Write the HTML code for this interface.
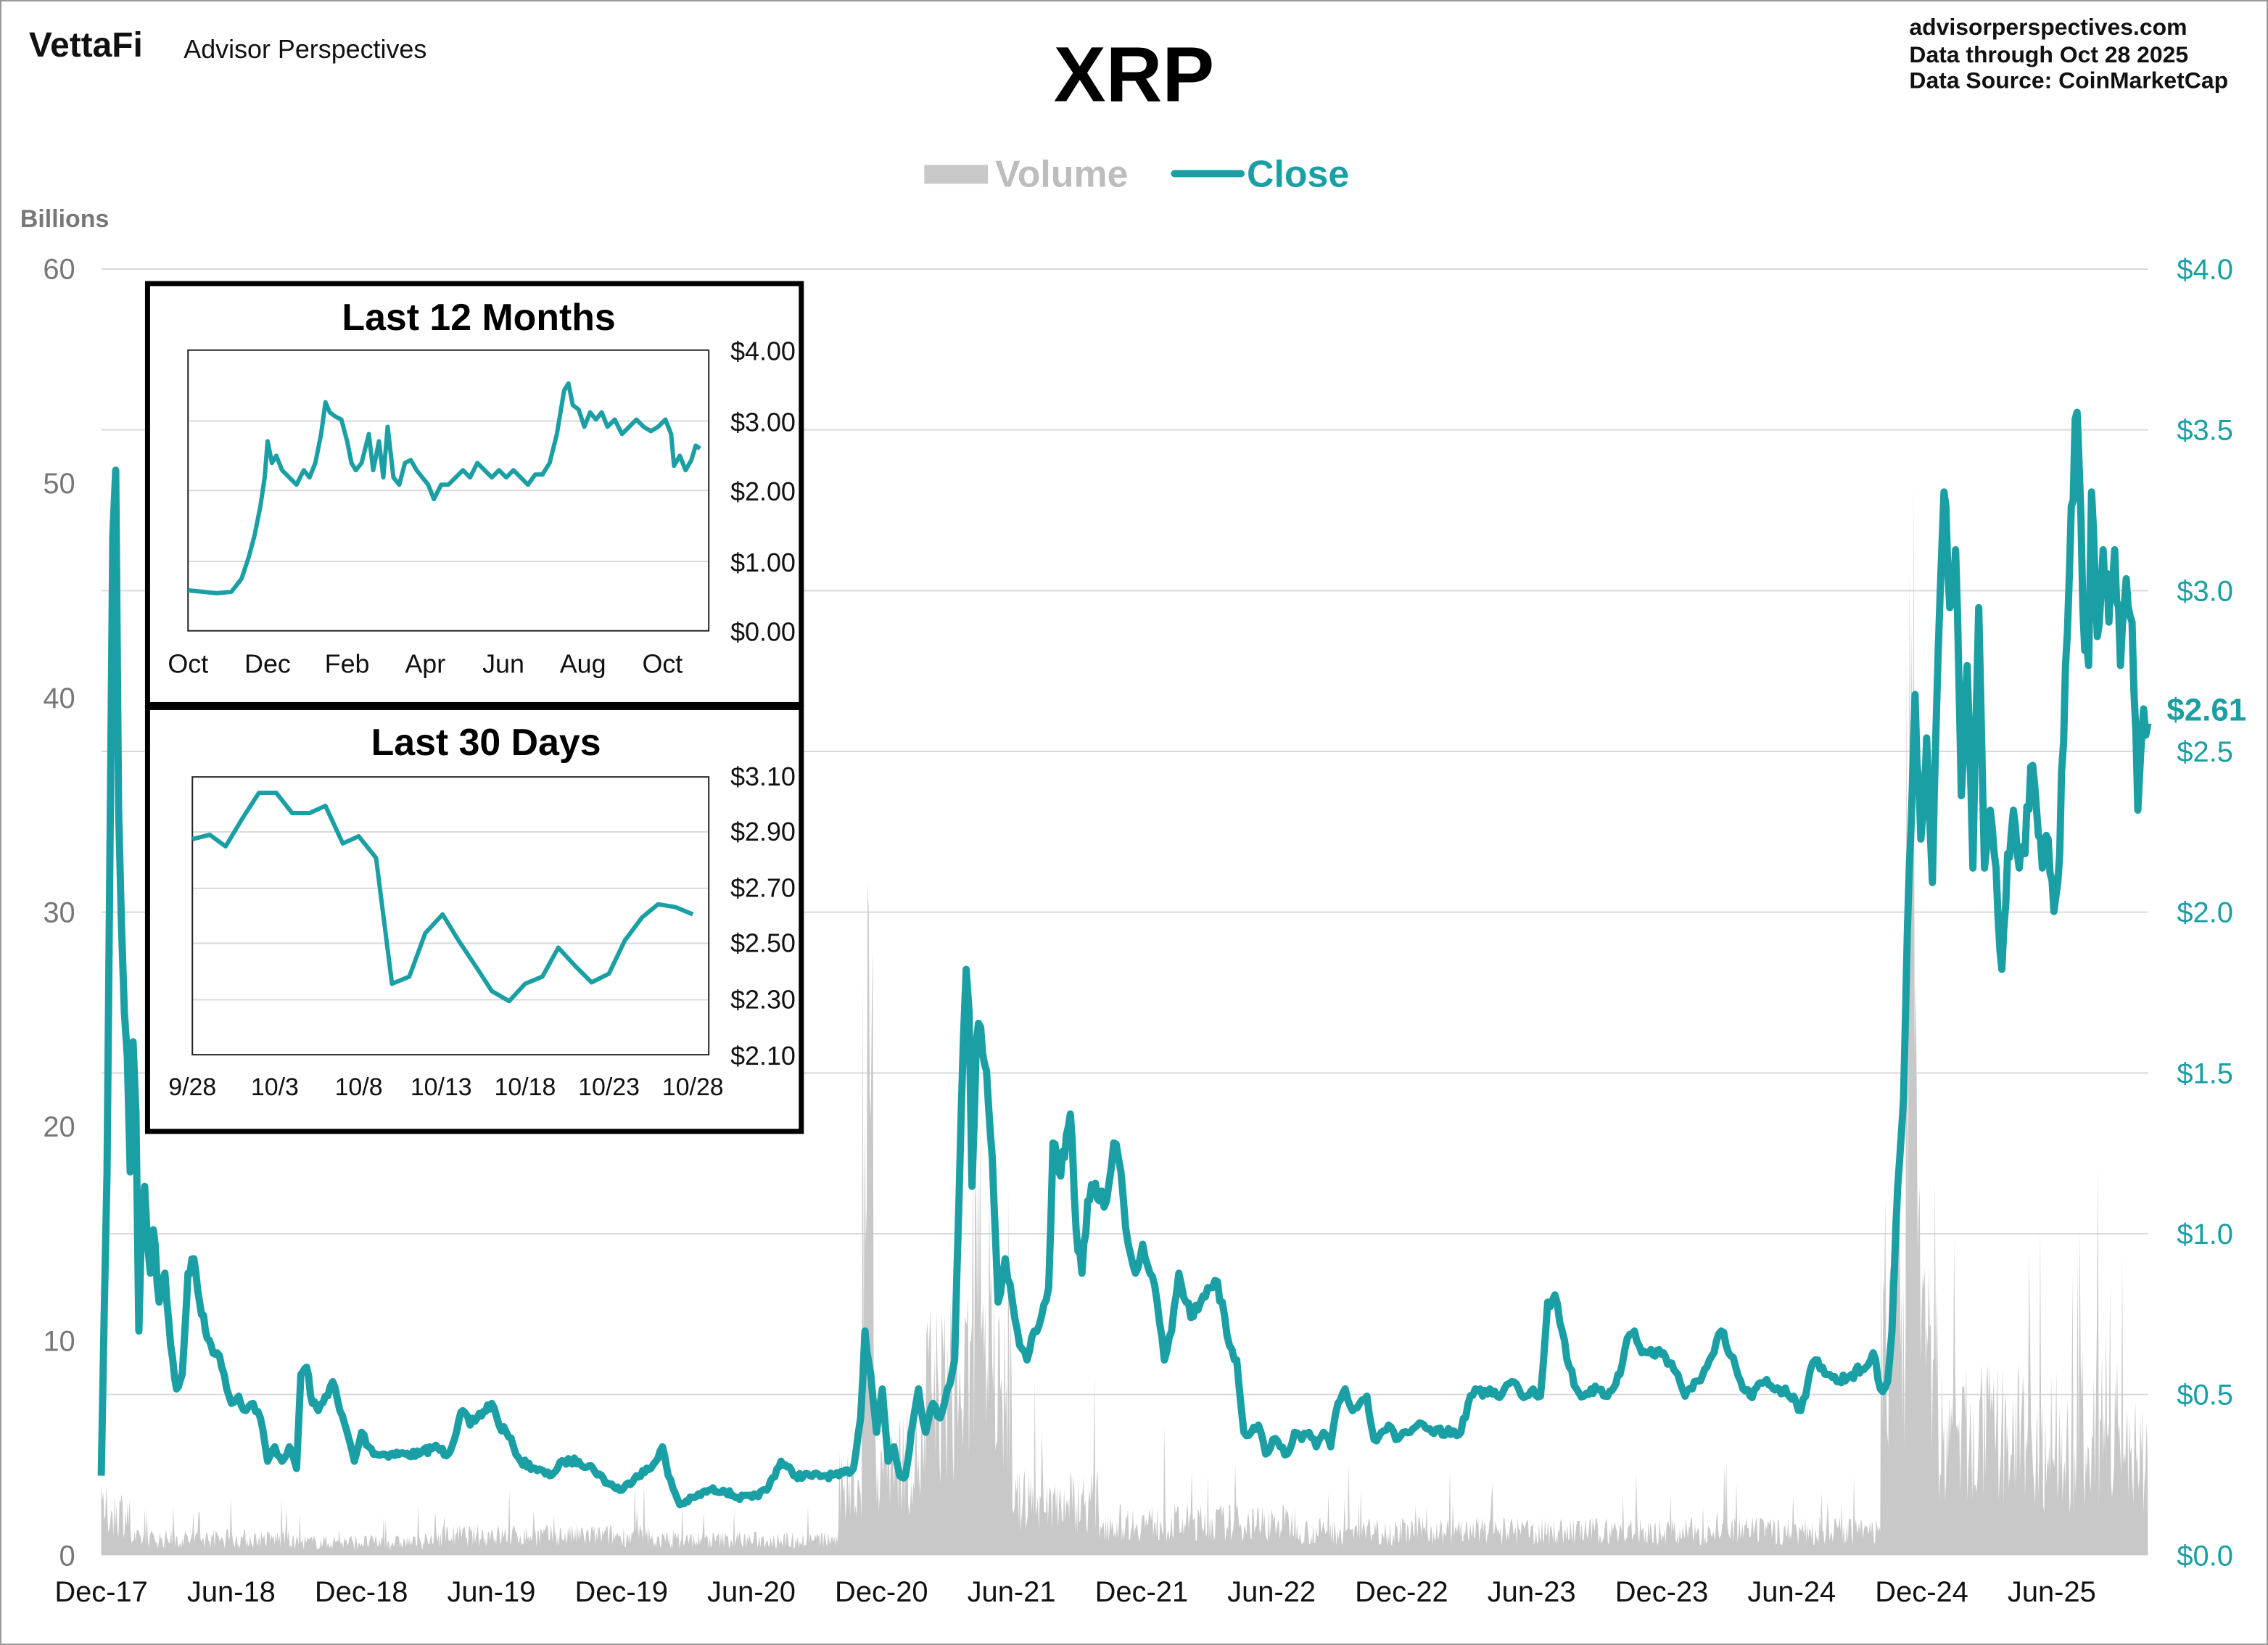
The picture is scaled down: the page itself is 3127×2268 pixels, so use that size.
<!DOCTYPE html>
<html><head><meta charset="utf-8"><style>
html,body{margin:0;padding:0;background:#fff}
svg{display:block}
text{font-family:"Liberation Sans",sans-serif}
</style></head><body>
<svg id="s" width="3127" height="2268" viewBox="0 0 1568 1137" preserveAspectRatio="none" xmlns="http://www.w3.org/2000/svg">
<rect x="0.5" y="0.5" width="1567" height="1136" fill="#fff" stroke="#999" stroke-width="1"/>
<text x="20" y="39" font-size="24" font-weight="bold" fill="#111">VettaFi</text>
<text x="127" y="40" font-size="18" fill="#111">Advisor Perspectives</text>
<text x="784" y="70" font-size="54" font-weight="bold" text-anchor="middle" fill="#000">XRP</text>
<text x="1320" y="24" font-size="16" font-weight="bold" fill="#111">advisorperspectives.com</text>
<text x="1320" y="43" font-size="16" font-weight="bold" fill="#111">Data through  Oct 28 2025</text>
<text x="1320" y="61" font-size="16" font-weight="bold" fill="#111">Data Source:  CoinMarketCap</text>
<rect x="639" y="114" width="44" height="13" fill="#c8c8c8"/>
<text x="688" y="129" font-size="26" font-weight="bold" fill="#bdbdbd">Volume</text>
<line x1="812" y1="120" x2="858" y2="120" stroke="#1a9fa5" stroke-width="5" stroke-linecap="round"/>
<text x="862" y="129" font-size="26" font-weight="bold" fill="#1a9fa5">Close</text>
<text x="14" y="157" font-size="17" font-weight="bold" fill="#777">Billions</text>
<g id="grid" stroke="#d9d9d9" stroke-width="1"></g>
<g id="ylab" font-size="20" fill="#777" text-anchor="end"></g>
<g id="rlab" font-size="20" fill="#1a9fa5"></g>
<path id="vol" fill="#c8c8c8" stroke="none"/>
<polyline id="price" fill="none" stroke="#1a9fa5" stroke-width="5" stroke-linejoin="round"/>
<text x="1498" y="498" font-size="22" font-weight="bold" fill="#1a9fa5">$2.61</text>
<g id="xlab" font-size="20" fill="#111" text-anchor="middle"></g>

<rect x="102" y="196" width="452" height="291" fill="#fff" stroke="#000" stroke-width="3.5"/>
<text x="331" y="228" font-size="26" font-weight="bold" text-anchor="middle">Last 12 Months</text>
<g stroke="#d9d9d9"><line x1="130" y1="291" x2="490" y2="291"/><line x1="130" y1="339" x2="490" y2="339"/><line x1="130" y1="388" x2="490" y2="388"/></g>
<rect x="130" y="242" width="360" height="194" fill="none" stroke="#222" stroke-width="1"/>
<g font-size="18" fill="#111"><text x="505" y="249">$4.00</text><text x="505" y="298">$3.00</text><text x="505" y="346">$2.00</text><text x="505" y="395">$1.00</text><text x="505" y="443">$0.00</text></g>
<g font-size="18" fill="#111" text-anchor="middle"><text x="130" y="465">Oct</text><text x="185" y="465">Dec</text><text x="240" y="465">Feb</text><text x="294" y="465">Apr</text><text x="348" y="465">Jun</text><text x="403" y="465">Aug</text><text x="458" y="465">Oct</text></g>
<polyline id="p12" fill="none" stroke="#1a9fa5" stroke-width="3" stroke-linejoin="round" points="130,408 150,410 160,409 167,400 172,385 176,370 180,350 183,330 185,305 188,320 191,315 195,325 200,330 205,335 210,325 214,330 218,320 222,300 225,278 228,285 232,288 236,290 240,305 243,320 246,325 250,320 255,300 258,325 262,305 265,330 268,295 272,330 276,335 280,320 284,318 288,325 292,330 296,335 300,345 305,335 310,335 315,330 320,325 325,330 330,320 335,325 340,330 345,325 350,330 355,325 360,330 365,335 370,328 375,328 380,320 385,300 390,270 393,265 396,280 400,283 404,295 408,285 412,290 416,285 420,295 425,290 430,300 435,295 440,290 445,295 450,298 455,295 460,290 464,300 466,322 470,315 474,325 478,318 481,308 484,310"/>

<rect x="102" y="489" width="452" height="293" fill="#fff" stroke="#000" stroke-width="3.5"/>
<text x="336" y="522" font-size="26" font-weight="bold" text-anchor="middle">Last 30 Days</text>
<g stroke="#d9d9d9"><line x1="133" y1="575" x2="490" y2="575"/><line x1="133" y1="614" x2="490" y2="614"/><line x1="133" y1="652" x2="490" y2="652"/><line x1="133" y1="691" x2="490" y2="691"/></g>
<rect x="133" y="537" width="357" height="192" fill="none" stroke="#222" stroke-width="1"/>
<g font-size="18" fill="#111"><text x="505" y="543">$3.10</text><text x="505" y="581">$2.90</text><text x="505" y="620">$2.70</text><text x="505" y="658">$2.50</text><text x="505" y="697">$2.30</text><text x="505" y="736">$2.10</text></g>
<g font-size="17" fill="#111" text-anchor="middle"><text x="133" y="757">9/28</text><text x="190" y="757">10/3</text><text x="248" y="757">10/8</text><text x="305" y="757">10/13</text><text x="363" y="757">10/18</text><text x="421" y="757">10/23</text><text x="479" y="757">10/28</text></g>
<polyline fill="none" stroke="#1a9fa5" stroke-width="3" stroke-linejoin="round" points="133,580 145,577 156,585 168,565 179,548 191,548 202,562 214,562 225,557 237,583 248,578 260,593 271,680 283,675 294,645 306,632 317,650 329,668 340,685 352,692 363,680 375,675 386,655 398,668 409,679 421,673 432,650 444,634 455,625 467,627 479,632"/>
</svg>
<script>
var NS="http://www.w3.org/2000/svg";
function el(p,t,a,txt){var e=document.createElementNS(NS,t);for(var k in a)e.setAttribute(k,a[k]);if(txt)e.textContent=txt;document.getElementById(p).appendChild(e);}
var rl=["$4.0","$3.5","$3.0","$2.5","$2.0","$1.5","$1.0","$0.5","$0.0"];
for(var i=0;i<9;i++){var y=186+i*111.125;if(i<8)el("grid","line",{x1:70,x2:1485,y1:y,y2:y});el("rlab","text",{x:1505,y:y+7},rl[i]);}
for(var i=0;i<=6;i++){var y=1075-i*148.2;el("ylab","text",{x:52,y:y+7},String(i*10));}
var xl=["Dec-17","Jun-18","Dec-18","Jun-19","Dec-19","Jun-20","Dec-20","Jun-21","Dec-21","Jun-22","Dec-22","Jun-23","Dec-23","Jun-24","Dec-24","Jun-25"];
for(var i=0;i<xl.length;i++)el("xlab","text",{x:70+i*89.9,y:1107},xl[i]);
var seed=7;function r(){seed=(seed*16807)%2147483647;return seed/2147483647;}
var pts="70,1020 72,910 74,810 76,590 78,370 80,325 82,560 84,640 86,700 88,730 90,810 92,720 94,770 96,920 98,840 100,820 102,860 104,880 106,850 110,900 114,880 118,930 122,960 126,950 130,880 134,870 138,900 142,920 146,930 150,935 155,950 160,970 165,965 170,975 175,970 180,980 185,1010 190,1000 195,1010 200,1000 205,1015 208,950 212,945 216,970 220,975 225,965 230,955 235,975 240,990 245,1010 250,990 255,1000 260,1005 270,1005 280,1005 290,1005 300,1000 310,1005 320,975 325,985 330,980 340,970 345,985 350,990 355,1000 360,1010 370,1015 380,1020 390,1010 400,1010 410,1015 420,1025 430,1030 440,1020 450,1015 458,1000 462,1020 470,1040 480,1035 490,1030 500,1030 510,1035 520,1035 530,1030 540,1010 550,1020 560,1020 570,1020 580,1020 590,1015 595,980 598,920 602,950 606,990 610,960 614,1010 618,1000 622,1020 626,1020 630,990 635,960 640,990 645,970 650,980 655,960 660,940 663,830 666,720 668,670 670,700 672,820 675,720 678,710 682,740 686,800 690,900 695,870 700,900 705,930 710,940 715,920 720,910 725,890 728,790 732,810 736,800 740,770 744,850 748,880 752,830 756,820 760,830 765,830 770,790 775,810 780,860 785,880 790,860 795,880 800,900 805,940 810,920 815,880 820,900 825,910 830,900 835,890 840,885 845,900 850,930 855,940 860,990 865,990 870,985 875,1005 880,995 885,1000 890,1005 895,990 900,995 905,990 910,1000 915,990 920,1000 925,970 930,960 935,975 940,970 945,965 950,995 955,990 960,985 965,995 970,990 975,990 980,985 990,990 1000,990 1010,990 1015,970 1020,960 1025,965 1030,960 1035,965 1040,960 1045,955 1050,960 1055,965 1060,960 1065,965 1070,900 1075,895 1080,920 1085,945 1090,960 1095,965 1100,960 1110,965 1120,950 1125,925 1130,920 1135,935 1140,935 1150,935 1160,950 1165,965 1170,960 1180,945 1185,935 1190,920 1195,935 1200,945 1205,960 1210,965 1220,955 1230,960 1240,965 1245,975 1250,955 1255,940 1260,945 1265,950 1270,955 1280,950 1290,945 1295,935 1300,960 1305,955 1308,920 1312,820 1316,760 1320,600 1324,480 1328,580 1332,510 1336,610 1340,450 1344,340 1348,420 1352,380 1356,550 1360,460 1364,600 1368,420 1372,600 1376,560 1380,600 1384,670 1388,590 1392,560 1396,600 1400,590 1404,530 1408,560 1412,600 1416,580 1420,630 1424,590 1428,460 1432,350 1436,285 1440,420 1444,460 1446,340 1450,440 1454,380 1458,430 1462,380 1466,460 1470,400 1474,430 1478,560 1480,520 1482,490 1485,500";
var P=pts.split(" ").map(function(s){return s.split(",").map(Number);});
var out=[];
for(var i=0;i<P.length-1;i++){var a=P[i],b=P[i+1];var n=Math.max(1,Math.round((b[0]-a[0])/1.5));
 for(var j=0;j<n;j++){var t=j/n;var x=a[0]+(b[0]-a[0])*t;var y=a[1]+(b[1]-a[1])*t;
  if(j>0){var amp=0.05*(1075-y)+1.5;y+=(r()-0.5)*amp;}
  out.push(x.toFixed(1)+","+y.toFixed(1));}}
out.push(P[P.length-1].join(","));
document.getElementById("price").setAttribute("points",out.join(" "));
function env(x){
 if(x<90)return 40; if(x<200)return 15; if(x<300)return 12; if(x<450)return 18; if(x<580)return 14;
 if(x<600)return 60; if(x<640)return 90; if(x<700)return 150; if(x<760)return 50; if(x<900)return 30;
 if(x<1300)return 22; if(x<1340)return 220; if(x<1400)return 110; return 90;}
var d="M70,1075";
for(var x=70;x<=1485;x+=0.7){var e=env(x);var h=e*(0.3+0.9*r());if(r()<0.04)h*=2.5;
 if(Math.abs(x-600)<4)h=Math.max(h,400*r()+100);if(Math.abs(x-680)<8)h=Math.max(h,300*r());
 if(Math.abs(x-1322)<4)h=Math.max(h,650*r()+100);if(Math.abs(x-1440)<30&&r()<0.2)h=Math.max(h,280*r());
 d+=" L"+x.toFixed(1)+","+(1075-Math.min(h,760)).toFixed(1);}
d+=" L1485,1075 Z";document.getElementById("vol").setAttribute("d",d);
</script>
</body></html>
